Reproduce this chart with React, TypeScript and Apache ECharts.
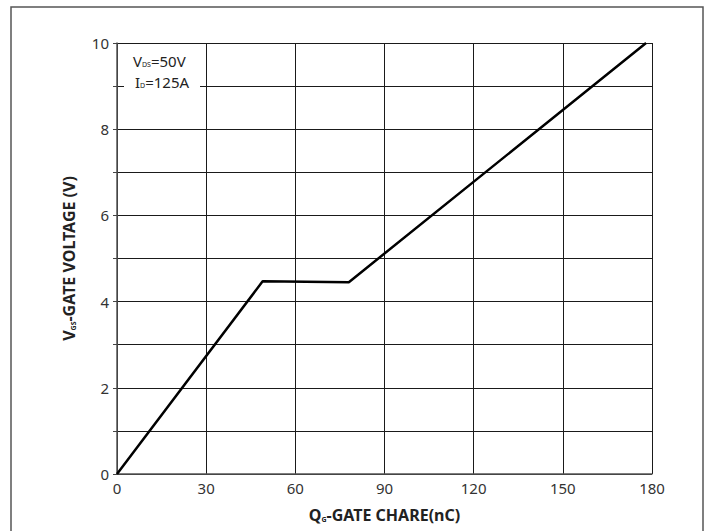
import React, { useEffect, useRef } from "react";
import * as echarts from "echarts";

const chargeNC = [0, 49, 78, 178];
const gateVoltage = [0, 4.47, 4.45, 10];
const xTicks = [0, 30, 60, 90, 120, 150, 180];
const yLabelValues = [0, 2, 4, 6, 8, 10];

export default function App() {
  const ref = useRef<HTMLDivElement>(null);
  useEffect(() => {
    if (!ref.current) return;
    const chart = echarts.init(ref.current, null, { renderer: "svg" });
    const font = "Noto Sans";
    chart.setOption({
      animation: false,
      backgroundColor: "#fff",
      textStyle: { fontFamily: font },
      grid: { left: 117, top: 43, right: 59, bottom: 57, containLabel: false },
      xAxis: {
        type: "value",
        min: xTicks[0],
        max: xTicks[xTicks.length - 1],
        interval: 30,
        name: "{b|Q}{s|G}{b|-GATE CHARE(nC)}",
        nameLocation: "middle",
        nameGap: 33,
        nameTextStyle: {
          rich: {
            b: { fontFamily: font, fontSize: 16, fontWeight: "bold", color: "#222" },
            s: { fontFamily: font, fontSize: 7, fontWeight: "bold", color: "#222", padding: [8, 0, 0, 0] },
          },
        },
        axisLine: { show: true, lineStyle: { color: "#555", width: 1.5 } },
        axisTick: { show: false },
        axisLabel: { color: "#333", fontSize: 15, fontFamily: font, margin: 6 },
        splitLine: { show: true, lineStyle: { color: "#1a1a1a", width: 1 } },
      },
      yAxis: {
        type: "value",
        min: 0,
        max: 10,
        interval: 1,
        name: "{b|V}{s|GS}{b|-GATE VOLTAGE (V)}",
        nameLocation: "middle",
        nameRotate: 90,
        nameGap: 40,
        nameTextStyle: {
          rich: {
            b: { fontFamily: font, fontSize: 16, fontWeight: "bold", color: "#222" },
            s: { fontFamily: font, fontSize: 7, fontWeight: "bold", color: "#222", padding: [8, 0, 0, 0] },
          },
        },
        axisLine: { show: true, lineStyle: { color: "#555", width: 1.5 } },
        axisTick: { show: true, length: 4, lineStyle: { color: "#444" } },
        axisLabel: {
          color: "#333",
          fontSize: 15,
          fontFamily: font,
          margin: 8,
          formatter: (v: number) => (yLabelValues.includes(v) ? String(v) : ""),
        },
        splitLine: { show: true, lineStyle: { color: "#1a1a1a", width: 1 } },
      },
      series: [
        {
          type: "line",
          data: chargeNC.map((x, i) => [x, gateVoltage[i]]),
          symbol: "none",
          lineStyle: { color: "#000", width: 2.5 },
          z: 5,
        },
      ],
      graphic: [
        {
          type: "rect",
          shape: { x: 11, y: 7, width: 692, height: 545 },
          style: { fill: "none", stroke: "#555", lineWidth: 1.5 },
          silent: true,
        },
        {
          type: "rect",
          shape: { x: 124, y: 48, width: 76, height: 42 },
          style: { fill: "#fff" },
          z: 10,
          silent: true,
        },
        {
          type: "text",
          x: 133,
          y: 61,
          z: 11,
          style: {
            text: "{n|V}{s|DS}{n|=50V}",
            fontFamily: font,
            fontSize: 15,
            verticalAlign: "middle",
            rich: {
              n: { fontFamily: font, fontSize: 15, fill: "#222" },
              s: { fontFamily: font, fontSize: 7, fill: "#222", padding: [6, 0, 0, 0] },
            },
          },
        },
        {
          type: "text",
          x: 135,
          y: 82,
          z: 11,
          style: {
            text: "{n|I}{s|D}{n|=125A}",
            fontFamily: font,
            fontSize: 15,
            verticalAlign: "middle",
            rich: {
              n: { fontFamily: font, fontSize: 15, fill: "#222" },
              s: { fontFamily: font, fontSize: 7, fill: "#222", padding: [6, 0, 0, 0] },
            },
          },
        },
      ],
    });
    return () => chart.dispose();
  }, []);
  return (
    <div
      ref={ref}
      style={{ position: "fixed", left: 0, top: 0, width: 711, height: 531 }}
    />
  );
}
